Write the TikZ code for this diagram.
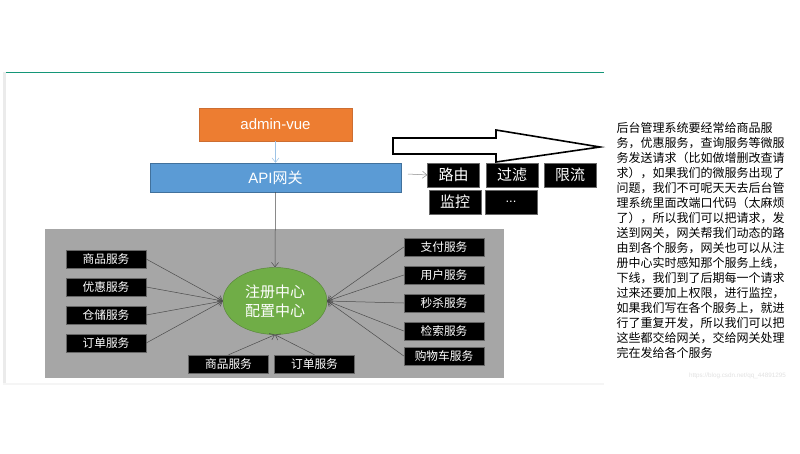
\documentclass[tikz,border=0pt]{standalone}
\usepackage{fontspec}
\setmainfont{Liberation Sans}
\newfontfamily\cjk{Noto Sans CJK SC}
\usetikzlibrary{shapes.geometric,arrows.meta}

\begin{document}
\begin{tikzpicture}[x=1pt,y=-1pt,>={Straight Barb[length=4.5pt,width=7pt]},
  svcstyle/.style={rectangle,draw=gray!80!black,fill=black,text=white,inner sep=0,minimum width=80,minimum height=18,font=\cjk\fontsize{11.7}{12}\selectfont},
  gatestyle/.style={svcstyle,minimum width=52,minimum height=24,font=\cjk\fontsize{15}{16}\selectfont},
  linkstyle/.style={->,draw=black!70,line width=0.5}]
 \useasboundingbox (0,0) rectangle (800,453);
 \fill [black!8] (3,72) rectangle (6,383);
 \fill [black!4] (3,383) rectangle (604,385);
 \draw [color={rgb,255:red,20;green,150;blue,120},line width=0.8] (6,72) -- (604,72);

 \node [rectangle,draw=black!35,fill={rgb,255:red,166;green,166;blue,166},inner sep=0,minimum width=458,minimum height=148] (panel) at (274,303) {};
 \node [rectangle,draw={rgb,255:red,204;green,110;blue,50},fill={rgb,255:red,237;green,125;blue,49},text=white,inner sep=0,minimum width=153,minimum height=33,font=\fontsize{15}{16}\selectfont] (admin) at (275.5,124.5) {admin-vue};
 \node [rectangle,draw={rgb,255:red,65;green,113;blue,156},fill={rgb,255:red,91;green,155;blue,213},text=white,inner sep=0,minimum width=251,minimum height=29,font=\fontsize{15}{16}\selectfont] (api) at (275.5,177.5) {API{\cjk 网关}};
 \node [ellipse,draw={rgb,255:red,84;green,130;blue,53},fill={rgb,255:red,112;green,173;blue,71},text=white,inner sep=0,minimum width=104,minimum height=67,align=center,font=\cjk\fontsize{15}{19}\selectfont] (core) at (275,301) {注册中心\\配置中心};

 % left column
 \foreach \y/\label in {259/商品服务,287/优惠服务,315/仓储服务,343/订单服务}
    {\node [svcstyle] (l\y) at (106,\y) {\label};
     \draw [linkstyle] (l\y.east) -- (core.west);}
 % right column
 \foreach \y/\label in {247/支付服务,275/用户服务,303/秒杀服务,331/检索服务,356/购物车服务}
    {\node [svcstyle] (r\y) at (444,\y) {\label};
     \draw [linkstyle] (r\y.west) -- (core.east);}
 % bottom row
 \foreach \n/\x/\label in {1/228.5/商品服务,2/314.5/订单服务}
    {\node [svcstyle] (b\n) at (\x,364) {\label};
     \draw [linkstyle] (b\n.north) -- (core.south);}

 \draw [->,draw={rgb,255:red,157;green,195;blue,230},line width=0.5] (admin.south) -- (api.north);
 \draw [linkstyle] (api.south) -- (core.north);

 \node [gatestyle] (route) at (453.5,175) {路由};
 \node [gatestyle] (filter) at (512,175) {过滤};
 \node [gatestyle] (limit) at (570,175) {限流};
 \node [gatestyle] (watch) at (455,202) {监控};
 \node [gatestyle,font=\fontsize{13}{14}\selectfont] (more) at (511,202) {...};
 \coordinate (gate) at (408,174);
 \draw [linkstyle,draw=black!45] (gate) -- (route.west);

 \draw [fill=white,line width=1.6,line join=miter] (393,138) -- (496,138) -- (496,130) -- (600,147) -- (496,162) -- (496,154) -- (393,154) -- cycle;

 \node [anchor=north west,inner sep=0,align=left,font=\cjk\fontsize{12}{15}\selectfont] (note) at (616.5,122) {后台管理系统要经常给商品服\\
务，优惠服务，查询服务等微服\\
务发送请求（比如做增删改查请\\
求），如果我们的微服务出现了\\
问题，我们不可呢天天去后台管\\
理系统里面改端口代码（太麻烦\\
了），所以我们可以把请求，发\\
送到网关，网关帮我们动态的路\\
由到各个服务，网关也可以从注\\
册中心实时感知那个服务上线，\\
下线，我们到了后期每一个请求\\
过来还要加上权限，进行监控，\\
如果我们写在各个服务上，就进\\
行了重复开发，所以我们可以把\\
这些都交给网关，交给网关处理\\
完在发给各个服务};
 \node [anchor=west,inner sep=0,text=black!12,font=\fontsize{6.3}{8}\selectfont] (mark) at (689,376) {https://blog.csdn.net/qq\_44891295};
\end{tikzpicture}
\end{document}
